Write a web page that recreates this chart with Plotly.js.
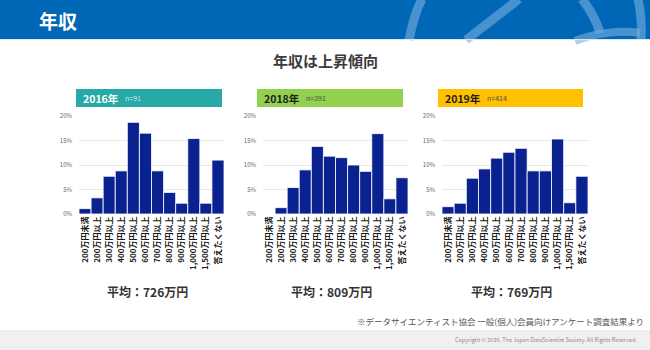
<!DOCTYPE html>
<html>
<head>
<meta charset="utf-8">
<script src="https://cdn.plot.ly/plotly-3.0.1.min.js"></script>
<style>html,body{margin:0;padding:0;background:#fff;}#chart{width:650px;height:350px;}</style>
</head>
<body>
<div id="chart"></div>
<script>
// ---- data ----
const categories = ["200万円未満","200万円以上","300万円以上","400万円以上","500万円以上","600万円以上","700万円以上","800万円以上","900万円以上","1,000万円以上","1,500万円以上","答えたくない"];
const rates2016 = [1.1, 3.3, 7.7, 8.8, 18.7, 16.5, 8.8, 4.4, 2.2, 15.4, 2.2, 11.0];
const rates2018 = [0, 1.3, 5.4, 9.0, 13.8, 11.8, 11.5, 10.0, 8.7, 16.4, 3.1, 7.4];
const rates2019 = [1.5, 2.2, 7.3, 9.2, 11.4, 12.6, 13.4, 8.8, 8.8, 15.3, 2.3, 7.7];
const yearLabels = ["2016年", "2018年", "2019年"];
const sampleSizes = ["n=91", "n=391", "n=414"];
const averages = ["平均：726万円", "平均：809万円", "平均：769万円"];
const yTicks = [0, 5, 10, 15, 20];
const pageTitle = "年収";
const subTitle = "年収は上昇傾向";
const footNote = "※データサイエンティスト協会 一般(個人)会員向けアンケート調査結果より";
const copyright = "Copyright © 2020. The Japan DataScientist Society. All Rights Reserved.";

// ---- layout helpers (pixel -> paper) ----
const W = 650, H = 350;
const px = x => x / W;
const py = y => 1 - y / H;
const FONT = '"Noto Sans CJK JP", "Noto Sans", sans-serif';

const series = [rates2016, rates2018, rates2019];
const plotX = [[79, 224], [263, 408], [442, 588]];
const plotY = [116, 214];
const headX = [[76, 222], [257, 403], [438, 583]];
const headColors = ["#27aaa7", "#92d050", "#ffc000"];
const headText = ["#ffffff", "#1e1e1e", "#1e1e1e"];
const headSub = ["rgba(255,255,255,0.75)", "#4a4a4a", "#4a4a4a"];

const traces = series.map((vals, i) => ({
  type: "bar",
  x: categories,
  y: vals,
  xaxis: i === 0 ? "x" : "x" + (i + 1),
  yaxis: i === 0 ? "y" : "y" + (i + 1),
  marker: { color: "#0a2190", line: { color: "#ffffff", width: 0.8 } },
  hoverinfo: "skip",
  showlegend: false
}));

const layout = {
  width: W, height: H,
  margin: { l: 0, r: 0, t: 0, b: 0 },
  paper_bgcolor: "#ffffff",
  plot_bgcolor: "rgba(0,0,0,0)",
  font: { family: FONT, color: "#333" },
  bargap: 0,
  shapes: [],
  annotations: []
};

series.forEach((vals, i) => {
  const xs = i === 0 ? "xaxis" : "xaxis" + (i + 1);
  const ys = i === 0 ? "yaxis" : "yaxis" + (i + 1);
  const yname = i === 0 ? "y" : "y" + (i + 1);
  const xname = i === 0 ? "x" : "x" + (i + 1);
  layout[xs] = {
    domain: [px(plotX[i][0]), px(plotX[i][1])],
    anchor: yname,
    type: "category",
    tickangle: -90,
    tickfont: { family: FONT, size: 8, color: "#1a1a1a", weight: "bold" },
    showgrid: false, zeroline: false, showline: false, ticks: "",
    fixedrange: true
  };
  layout[ys] = {
    domain: [py(plotY[1]), py(plotY[0])],
    anchor: xname,
    range: [0, 20],
    tickvals: yTicks,
    ticktext: yTicks.map(v => v + "%"),
    tickfont: { family: FONT, size: 6, color: "#666" },
    showgrid: true, gridcolor: "#e8e8e8", gridwidth: 1,
    zeroline: false, showline: false, ticks: "",
    ticklabelstandoff: 6,
    fixedrange: true
  };
  // panel header
  layout.shapes.push({
    type: "rect", xref: "paper", yref: "paper", layer: "below",
    x0: px(headX[i][0]), x1: px(headX[i][1]), y0: py(107), y1: py(89),
    fillcolor: headColors[i], line: { width: 0 }
  });
  layout.annotations.push({
    xref: "paper", yref: "paper", x: px(headX[i][0] + 5), y: py(98),
    xanchor: "left", yanchor: "middle", showarrow: false,
    text: "<b>" + yearLabels[i] + "</b>",
    font: { family: FONT, size: 10.5, color: headText[i] }
  });
  layout.annotations.push({
    xref: "paper", yref: "paper", x: px(headX[i][0] + 47), y: py(98.5),
    xanchor: "left", yanchor: "middle", showarrow: false,
    text: sampleSizes[i],
    font: { family: FONT, size: 7, color: headSub[i] }
  });
  layout.annotations.push({
    xref: "paper", yref: "paper", x: px((plotX[i][0] + plotX[i][1]) / 2 - 4), y: py(291),
    xanchor: "center", yanchor: "middle", showarrow: false,
    text: "<b>" + averages[i] + "</b>",
    font: { family: FONT, size: 12, color: "#333" }
  });
});

// header band & decoration
const deco = "rgba(120,175,225,0.6)";
layout.shapes.unshift(
  { type: "rect", xref: "paper", yref: "paper", layer: "below",
    x0: 0, x1: 1, y0: py(39), y1: 1, fillcolor: "#0067b6", line: { width: 0 } },
  { type: "path", xref: "paper", yref: "paper", layer: "below",
    path: `M ${px(409)} ${py(40)} C ${px(412)} ${py(25)} ${px(415)} ${py(12)} ${px(422)} ${py(-1)}`,
    line: { color: deco, width: 9 } },
  { type: "path", xref: "paper", yref: "paper", layer: "below",
    path: `M ${px(466)} ${py(40)} L ${px(519)} ${py(-1)}`,
    line: { color: deco, width: 9 } },
  { type: "path", xref: "paper", yref: "paper", layer: "below",
    path: `M ${px(582)} ${py(-1)} C ${px(592)} ${py(12)} ${px(597)} ${py(22)} ${px(600)} ${py(33)}`,
    line: { color: deco, width: 9 } },
  { type: "path", xref: "paper", yref: "paper", layer: "below",
    path: `M ${px(575)} ${py(41)} C ${px(595)} ${py(33)} ${px(620)} ${py(30)} ${px(640)} ${py(33)}`,
    line: { color: deco, width: 8 } },
  { type: "path", xref: "paper", yref: "paper", layer: "below",
    path: `M ${px(638)} ${py(-1)} C ${px(641)} ${py(12)} ${px(642)} ${py(26)} ${px(641)} ${py(40)}`,
    line: { color: deco, width: 9 } },
  { type: "line", xref: "paper", yref: "paper", layer: "below",
    x0: 0, x1: 1, y0: py(39.5), y1: py(39.5), line: { color: "#dfe6ee", width: 1 } },
  // footer band
  { type: "rect", xref: "paper", yref: "paper", layer: "below",
    x0: 0, x1: 1, y0: 0, y1: py(331), fillcolor: "#f0f0f0", line: { width: 0 } },
  { type: "line", xref: "paper", yref: "paper", layer: "below",
    x0: 0, x1: 1, y0: py(331), y1: py(331), line: { color: "#e2e2e2", width: 1 } }
);

layout.annotations.push(
  { xref: "paper", yref: "paper", x: px(37), y: py(20), xanchor: "left", yanchor: "middle",
    showarrow: false, text: "<b>" + pageTitle + "</b>", font: { family: FONT, size: 19, color: "#ffffff" } },
  { xref: "paper", yref: "paper", x: px(326), y: py(60), xanchor: "center", yanchor: "middle",
    showarrow: false, text: "<b>" + subTitle + "</b>", font: { family: FONT, size: 15, color: "#3b3b3b" } },
  { xref: "paper", yref: "paper", x: px(646), y: py(321), xanchor: "right", yanchor: "middle",
    showarrow: false, text: footNote, font: { family: FONT, size: 8.5, color: "#555" } },
  { xref: "paper", yref: "paper", x: px(639), y: py(339.5), xanchor: "right", yanchor: "middle",
    showarrow: false, text: copyright, font: { family: FONT, size: 5.5, color: "#8a8a8a" } }
);

Plotly.newPlot("chart", traces, layout, { staticPlot: true, displayModeBar: false });
</script>
</body>
</html>
